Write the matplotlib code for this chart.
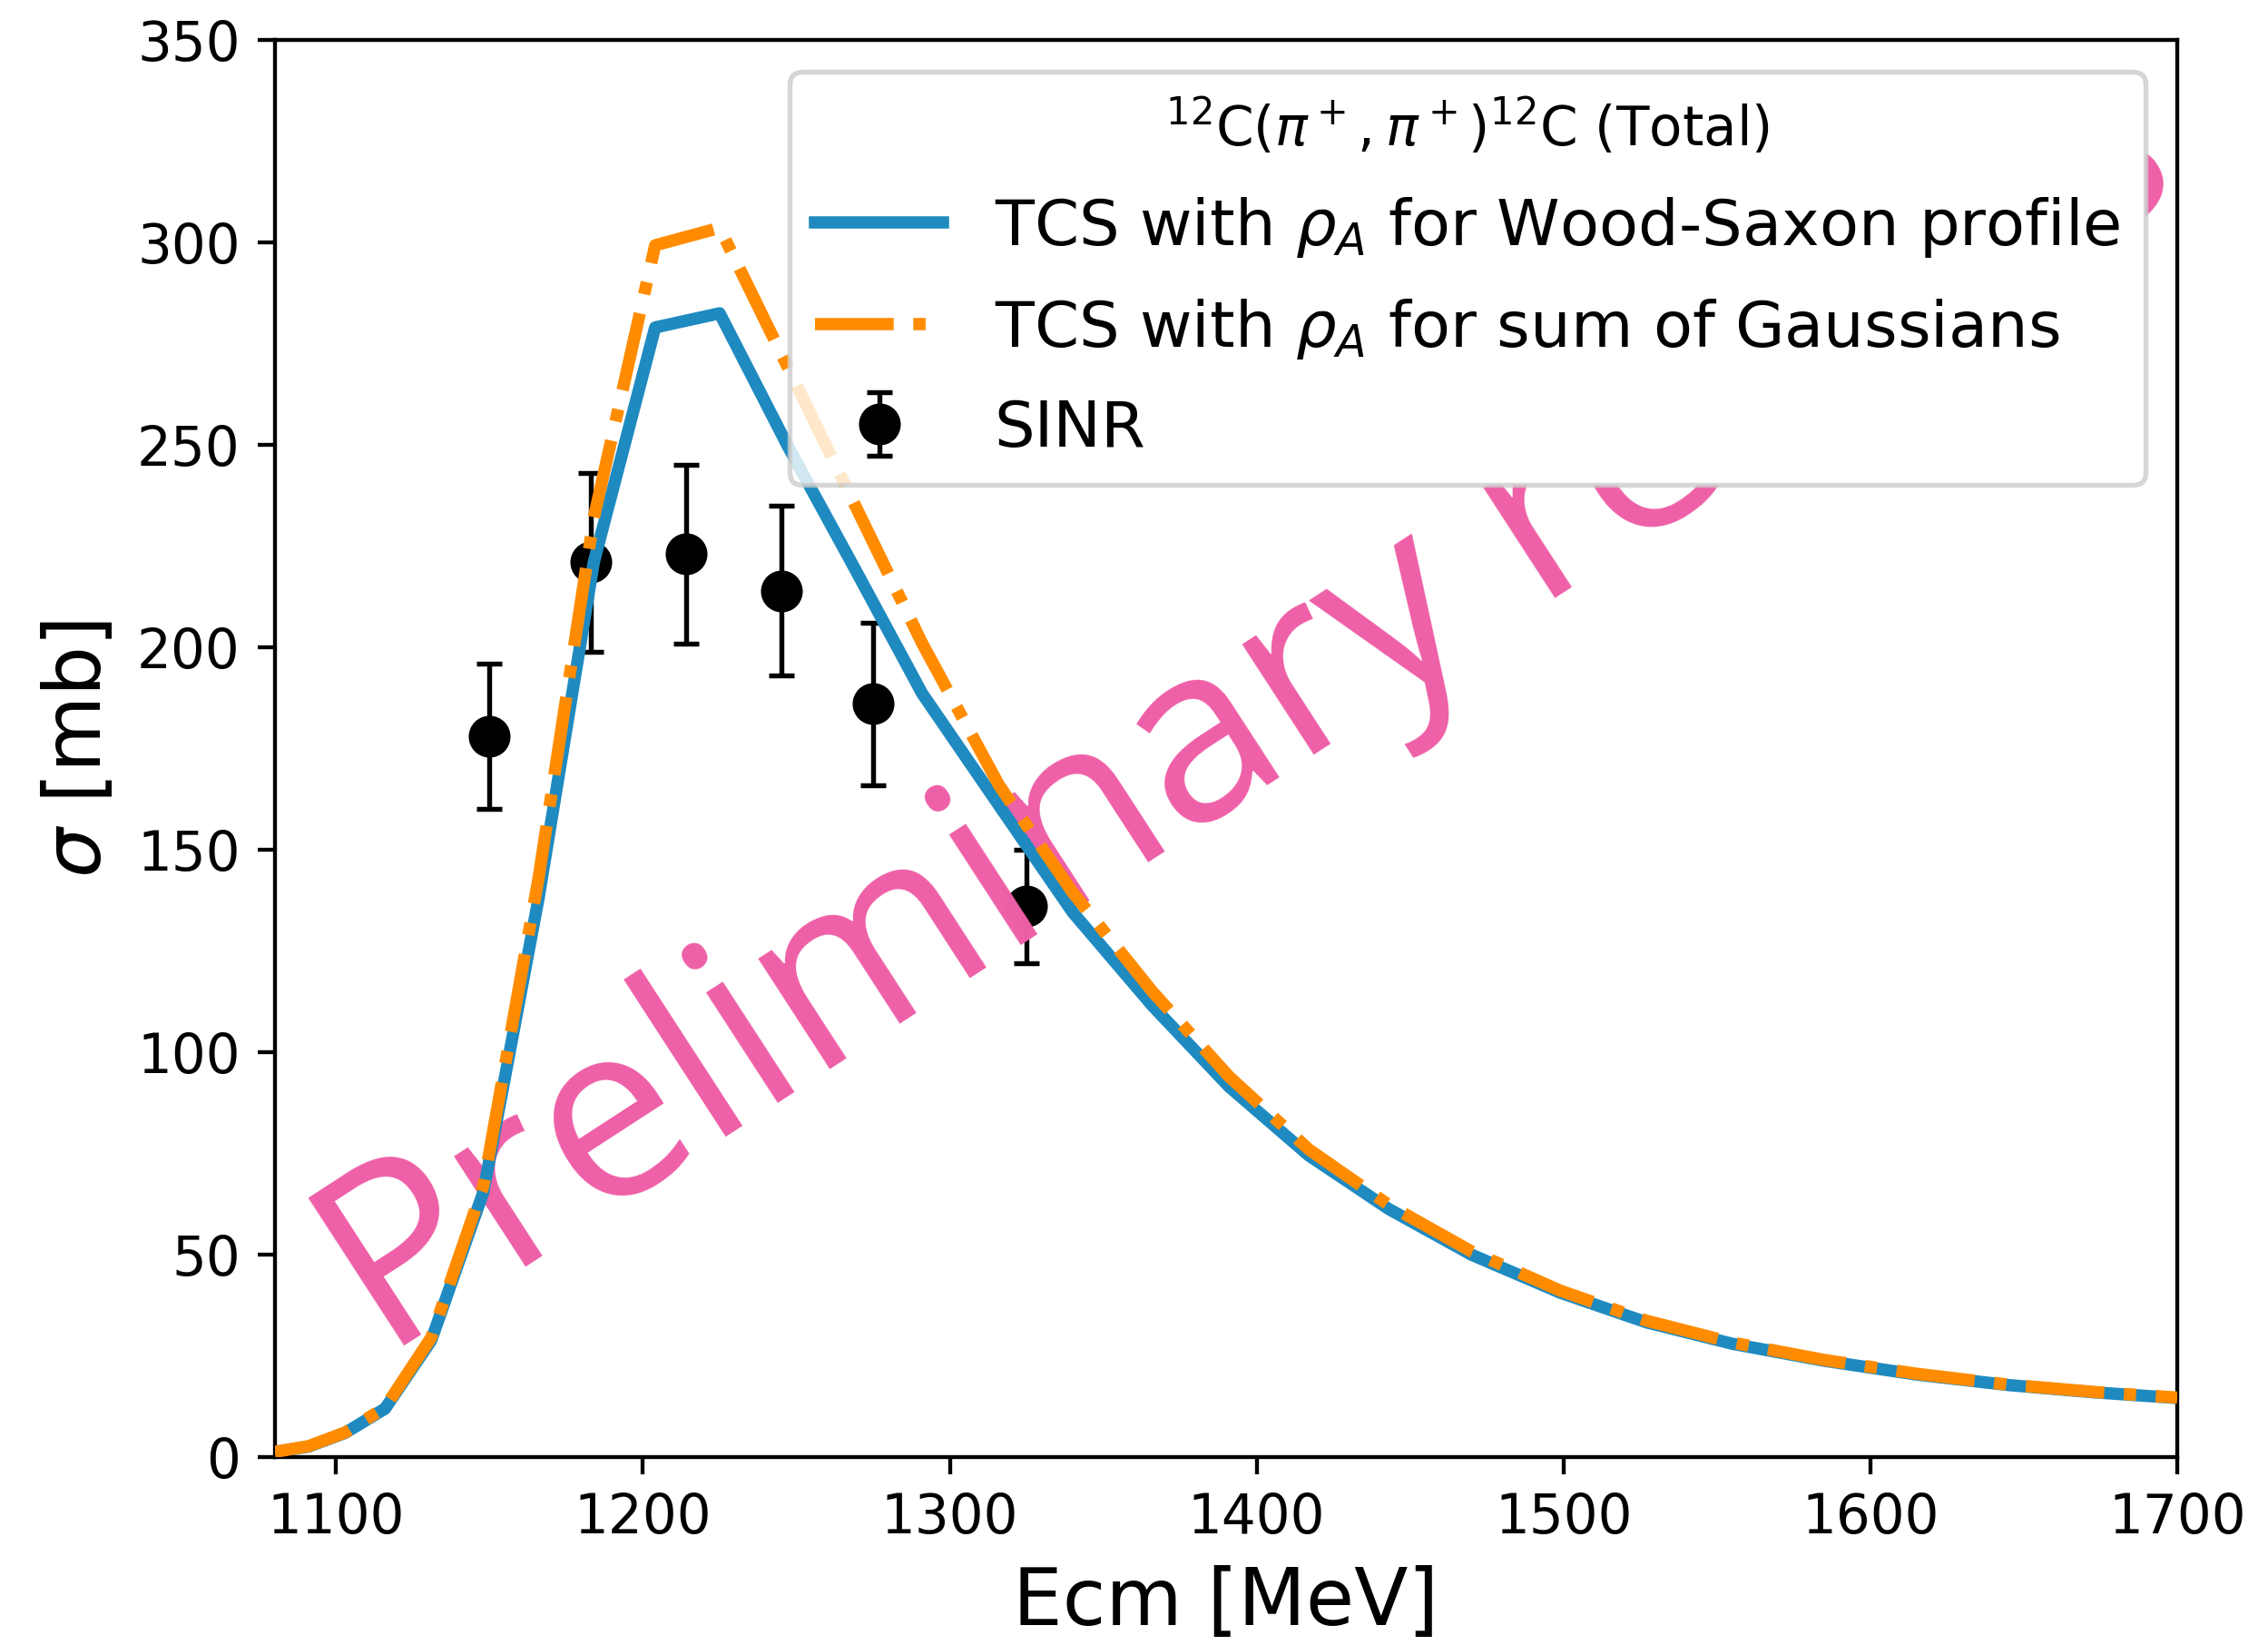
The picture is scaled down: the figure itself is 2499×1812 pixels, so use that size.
import matplotlib
matplotlib.use('Agg')
import matplotlib.pyplot as plt
from matplotlib.patches import Rectangle

#energies of the calculated points (MeV)
ecm = [1080, 1091, 1103, 1116, 1131, 1148, 1166, 1184, 1204, 1225, 1247, 1269,
       1291, 1316, 1340, 1366, 1391, 1417, 1443, 1470, 1499, 1527, 1555, 1585,
       1615, 1645, 1673, 1700]

#total cross section with Wood-Saxon density (mb)
tcs_ws = [1.3, 2.6, 6.0, 12.0, 28.8, 65.4, 138, 221, 279, 282.5, 250, 219.5,
          188.6, 161, 134.6, 111.5, 91.5, 74.5, 61.3, 50.0, 40.6, 33.3, 28.0, 23.8,
          20.4, 17.8, 16.0, 14.6]

#total cross section with sum of Gaussians density (mb)
tcs_sog = [1.3, 2.7, 6.1, 12.3, 29.5, 67, 143, 232, 299.3, 303.6, 269.5, 235.3,
           201, 166, 139.5, 115, 94, 76, 62.3, 50.8, 41.1, 33.7, 28.3, 24.0,
           20.6, 17.9, 16.1, 14.7]

#SINR data
sinr_e = [1150, 1183, 1214, 1245, 1275, 1325]
sinr_sigma = [178, 221, 223, 214, 186, 136]
sinr_err = [18, 22, 22, 21, 20, 14]

fig = plt.figure(figsize=(2499 / 390, 1812 / 390), dpi=390)
ax = fig.add_axes([0.1211, 0.1142, 0.8389, 0.8615])

#data points
ax.errorbar(sinr_e, sinr_sigma, yerr=sinr_err, fmt='o', color='black', ms=7.5,
            capsize=2.6, elinewidth=1.0, capthick=1.0, label='SINR', zorder=2)

#watermark
ax.text(0.0575, 0.0693, 'Preliminary results', transform=ax.transAxes,
        fontsize=50, family='Open Sans', color='#ee5fa7', rotation=33,
        rotation_mode='anchor', ha='left', va='baseline', clip_on=True, zorder=2.2)

#calculated curves
ax.plot(ecm, tcs_ws, color='#1f8ac0', lw=2.5, zorder=2.5,
        label=r'TCS with $\rho_A$ for Wood-Saxon profile')
ax.plot(ecm, tcs_sog, color='darkorange', lw=2.5, linestyle='-.', zorder=2.6,
        label=r'TCS with $\rho_A$ for sum of Gaussians')

ax.set_xlim(1080, 1700)
ax.set_ylim(0, 350)
ax.tick_params(labelsize=11)
ax.set_xlabel('Ecm [MeV]', fontsize=16)
ax.set_ylabel(r'$\sigma$ [mb]', fontsize=16)

leg = ax.legend(loc='upper right', fontsize=13, labelspacing=0.58,
                title=r'$^{12}$C$(\pi^+,\pi^+)^{12}$C (Total)', title_fontsize=11)

#hide the watermark below the legend box
fig.canvas.draw()
bb = leg.get_frame().get_window_extent()
inv = ax.transAxes.inverted()
(x0, y0), (x1, y1) = inv.transform([[bb.x0, bb.y0], [bb.x1, bb.y1]])
ax.add_patch(Rectangle((x0, y0), x1 - x0, y1 - y0, transform=ax.transAxes,
                       facecolor='white', edgecolor='none', zorder=2.3))

fig.savefig('out.png', dpi=390)
